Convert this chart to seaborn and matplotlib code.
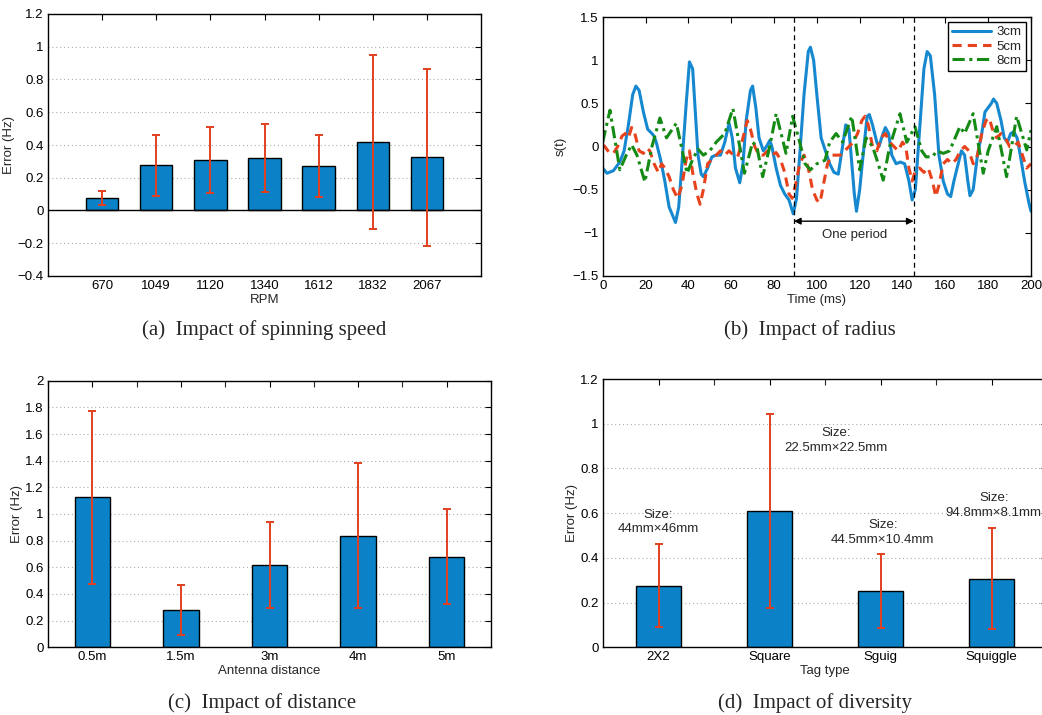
import numpy as np
import pandas as pd
import seaborn as sns
from matplotlib import pyplot as plt
from matplotlib.ticker import FuncFormatter, MultipleLocator

# (a) spinning speed
rpm = ['670', '1049', '1120', '1340', '1612', '1832', '2067']
rpm_err_mean = [0.077, 0.277, 0.308, 0.322, 0.273, 0.42, 0.324]
rpm_err_std = [0.041, 0.187, 0.2, 0.206, 0.19, 0.53, 0.538]

# (b) radius, s(t) traces
t_3cm = [0, 2, 5, 8, 10, 12, 14, 15.5, 17, 19, 21, 23, 24, 25, 27, 29, 31, 33, 34, 35.5,
         37, 39, 40.5, 42, 43, 44.5, 46, 47, 49, 51, 53, 55, 57, 59, 60.5, 62, 64, 65.5,
         67, 69, 70, 71.5, 73, 75, 76.5, 78, 79, 81, 83, 85, 87, 89, 90.5, 92, 94, 96,
         97, 98.5, 100, 102, 104, 106, 108, 110, 112, 113.5, 115, 116, 117.5, 118.5, 120,
         122, 123.5, 124.5, 126, 128, 129, 130.5, 132, 133.5, 135, 137, 139, 141, 143,
         144.5, 146, 148, 150, 151.5, 153, 155, 157, 159, 161, 162.5, 164, 166, 167.5,
         169, 170.5, 171.5, 173, 175, 177, 178.5, 180, 181.5, 182.5, 184, 186, 187.5, 189,
         190.5, 192, 193.5, 195, 197, 199, 200]
s_3cm = [-0.25, -0.31, -0.28, -0.18, -0.05, 0.25, 0.6, 0.7, 0.65, 0.4, 0.2, 0.15, 0.12,
         0.05, -0.15, -0.4, -0.7, -0.82, -0.88, -0.7, -0.2, 0.5, 0.98, 0.9, 0.5, -0.1,
         -0.32, -0.35, -0.25, -0.12, -0.1, -0.1, 0.05, 0.27, 0.1, -0.25, -0.42, -0.2, 0.3,
         0.65, 0.7, 0.45, 0.1, -0.05, 0.0, 0.07, 0.0, -0.25, -0.45, -0.55, -0.62, -0.78,
         -0.6, -0.1, 0.6, 1.1, 1.15, 1.0, 0.6, 0.1, -0.05, -0.2, -0.3, -0.32, 0.0, 0.25,
         0.2, -0.1, -0.55, -0.75, -0.5, 0.0, 0.35, 0.37, 0.25, 0.05, 0.0, 0.12, 0.22, 0.15,
         -0.1, -0.2, -0.18, -0.2, -0.4, -0.62, -0.5, 0.2, 0.9, 1.1, 1.05, 0.6, -0.1, -0.4,
         -0.55, -0.58, -0.4, -0.2, -0.05, -0.1, -0.4, -0.57, -0.5, -0.1, 0.15, 0.4, 0.45,
         0.5, 0.55, 0.5, 0.3, 0.1, 0.05, 0.15, 0.17, 0.1, -0.1, -0.4, -0.65, -0.75]
t_5cm = [0, 1, 3, 5, 7, 9, 10.5, 12, 13.5, 15, 17, 19, 20.5, 22, 24, 26, 27.5, 29, 31,
         33, 35, 37, 39, 40.5, 42, 44, 45.5, 47, 49, 51, 53, 55, 57, 59, 61, 63, 64.5,
         66, 67.5, 69, 71, 73, 75, 77, 79, 81, 83, 85, 87, 88.5, 90, 92, 94, 96, 98, 100,
         101.5, 103, 105, 107, 109, 111, 113, 115, 117, 119, 121, 122.5, 124, 126, 128,
         130, 132, 134, 136, 138, 140, 141.5, 143, 144.5, 146, 148, 150, 152, 154, 155.5,
         157, 159, 161, 163, 165, 167, 169, 171, 173, 175, 177, 179, 180.5, 182, 184, 186,
         188, 190, 192, 194, 196, 198, 200]
s_5cm = [0.02, 0.0, -0.07, -0.08, 0.0, 0.12, 0.15, 0.1, 0.22, 0.15, -0.05, -0.08, -0.02,
         -0.05, -0.2, -0.3, -0.2, -0.25, -0.35, -0.5, -0.6, -0.45, -0.15, -0.05, -0.3,
         -0.55, -0.67, -0.5, -0.2, -0.15, -0.1, -0.05, -0.1, -0.05, -0.1, -0.12, 0.0, 0.15,
         0.3, 0.2, 0.0, -0.1, -0.1, -0.05, -0.1, -0.07, -0.15, -0.3, -0.55, -0.6, -0.45,
         -0.2, -0.1, -0.25, -0.5, -0.62, -0.65, -0.45, -0.2, -0.1, -0.1, -0.1, -0.05, 0.0,
         0.05, 0.15, 0.3, 0.35, 0.25, 0.0, -0.05, 0.1, 0.15, 0.05, 0.0, -0.05, 0.05, 0.0,
         -0.25, -0.4, -0.28, -0.25, -0.3, -0.25, -0.4, -0.58, -0.45, -0.2, -0.15, -0.2,
         -0.15, -0.05, 0.0, -0.05, -0.2, -0.1, 0.15, 0.3, 0.33, 0.2, 0.1, 0.15, 0.1, 0.0,
         0.0, 0.05, -0.1, -0.25, -0.2]
t_8cm = [0, 3.4, 8, 11, 13.5, 16, 19.7, 23, 26.7, 29.8, 34.4, 39.4, 42, 44.5, 47, 50, 53,
         57, 60.8, 66.2, 70, 72, 74.7, 78, 81, 85.6, 88.7, 92, 94.5, 97, 100, 103.8, 106,
         109, 112, 116.3, 120, 123, 126, 128, 131, 134, 138.8, 142, 145.8, 149, 151, 154,
         156, 159, 162, 166.8, 169, 173, 177.7, 180, 184, 188.6, 193.3, 198, 200]
s_8cm = [0.05, 0.42, -0.27, -0.1, 0.02, -0.1, -0.41, 0.0, 0.33, 0.1, 0.27, -0.31, -0.15,
         -0.03, -0.1, -0.05, 0.05, 0.15, 0.44, -0.31, 0.05, 0.0, -0.35, 0.0, 0.38, -0.08,
         0.35, 0.05, -0.2, -0.27, -0.2, -0.16, 0.05, 0.15, 0.05, 0.35, -0.27, 0.1, 0.0,
         -0.15, -0.39, 0.0, 0.38, 0.05, 0.23, -0.05, -0.12, -0.12, -0.05, -0.08, -0.05,
         0.23, 0.15, 0.38, -0.31, -0.05, 0.23, -0.35, 0.35, -0.04, 0.19]
period_start, period_end = 89.3, 145.2

# (c) antenna distance
dist = ['0.5m', '1.5m', '3m', '4m', '5m']
dist_err_mean = [1.125, 0.28, 0.62, 0.838, 0.68]
dist_err_std = [0.65, 0.187, 0.322, 0.543, 0.355]

# (d) tag type
tags = ['2X2', 'Square', 'Sguig', 'Squiggle']
tag_err_mean = [0.276, 0.608, 0.252, 0.306]
tag_err_std = [0.187, 0.434, 0.167, 0.226]
tag_sizes = ['Size:\n44mm×46mm', 'Size:\n22.5mm×22.5mm', 'Size:\n44.5mm×10.4mm',
             'Size:\n94.8mm×8.1mm']
tag_label_pos = [(0.0, 0.56), (1.6, 0.925), (2.02, 0.515), (3.02, 0.633)]

sns.set_theme(style="white")
plt.rcParams['font.family'] = ['Liberation Sans', 'DejaVu Sans']
plt.rcParams['axes.unicode_minus'] = True

BAR = '#0b82c8'
ERR = '#e2401f'
W, H = 1042, 715
fig = plt.figure(figsize=(W / 100, H / 100), dpi=100)


def box(l, r, t, b):
    return fig.add_axes([l / W, 1 - b / H, (r - l) / W, (b - t) / H])


def fmt(v, pos):
    s = '%g' % round(v, 6)
    return s.replace('-', '\u2212')


def style(ax):
    for sp in ax.spines.values():
        sp.set_color('black')
        sp.set_linewidth(1.0)
    ax.tick_params(direction='in', top=True, right=True, length=4, width=0.8,
                   labelsize=9.5, colors='black', pad=3)
    ax.yaxis.set_major_formatter(FuncFormatter(fmt))


def bars(ax, cats, mean, std, width, ylim, ystep):
    df = pd.DataFrame({'cat': cats, 'val': mean})
    sns.barplot(data=df, x='cat', y='val', ax=ax, color=BAR, saturation=1,
                width=width, edgecolor='black', linewidth=1.0, errorbar=None)
    ax.errorbar(np.arange(len(cats)), mean, yerr=std, fmt='none', ecolor=ERR,
                elinewidth=1.4, capsize=3, capthick=1.4, zorder=5)
    ax.set_ylim(*ylim)
    ax.yaxis.set_major_locator(MultipleLocator(ystep))
    ax.grid(axis='y', linestyle=(0, (1, 2.5)), color='#aaaaaa', linewidth=0.8)
    ax.set_axisbelow(True)
    style(ax)
    ax.set_ylabel('Error (Hz)', fontsize=9.5, labelpad=2)


# (a)
ax1 = box(48, 481, 14, 276)
bars(ax1, rpm, rpm_err_mean, rpm_err_std, 0.6, (-0.4, 1.2), 0.2)
ax1.set_xlim(-1, 7)
ax1.axhline(0, color='black', lw=1.0, zorder=1)
ax1.set_xlabel('RPM', fontsize=9.5, labelpad=1)

# (b)
ax2 = box(602.7, 1031, 17, 276)
sns.lineplot(x=t_3cm, y=s_3cm, ax=ax2, color='#1688d0', lw=2.2, label='3cm')
sns.lineplot(x=t_5cm, y=s_5cm, ax=ax2, color='#e8421c', lw=2.2, label='5cm',
             linestyle=(0, (3, 2)))
sns.lineplot(x=t_8cm, y=s_8cm, ax=ax2, color='#158a15', lw=2.2, label='8cm',
             linestyle=(0, (4, 1.5, 1, 1.5)))
ax2.set_xlim(0, 200)
ax2.set_ylim(-1.5, 1.5)
ax2.xaxis.set_major_locator(MultipleLocator(20))
ax2.yaxis.set_major_locator(MultipleLocator(0.5))
style(ax2)
for x0 in (period_start, period_end):
    ax2.axvline(x0, color='black', lw=0.9, linestyle=(0, (4, 3)))
ax2.annotate('', xy=(period_start, -0.865), xytext=(period_end, -0.865),
             arrowprops=dict(arrowstyle='<|-|>', color='black', lw=1.0,
                             mutation_scale=10, shrinkA=0, shrinkB=0))
ax2.text(117.5, -1.02, 'One period', ha='center', va='center', fontsize=9.5)
ax2.set_xlabel('Time (ms)', fontsize=9.5, labelpad=1)
ax2.set_ylabel('s(t)', fontsize=9.5, labelpad=4)
leg = ax2.legend(loc='upper right', fontsize=9.5, fancybox=False, framealpha=1,
                 edgecolor='black', handlelength=3.0, borderpad=0.3,
                 labelspacing=0.15, handletextpad=0.4, borderaxespad=0.4)
leg.get_frame().set_linewidth(1.0)

# (c)
ax3 = box(48, 491, 380.7, 647.3)
bars(ax3, dist, dist_err_mean, dist_err_std, 0.4, (0, 2), 0.2)
ax3.set_xlim(-0.5, 4.5)
ax3.xaxis.set_minor_locator(MultipleLocator(0.5))
ax3.tick_params(which='minor', direction='in', top=True, length=4, width=0.8)
ax3.set_xlabel('Antenna distance', fontsize=9.5, labelpad=1)

# (d)
ax4 = box(603, 1047, 379, 647.3)
bars(ax4, tags, tag_err_mean, tag_err_std, 0.4, (0, 1.2), 0.2)
ax4.set_xlim(-0.5, 3.5)
ax4.xaxis.set_minor_locator(MultipleLocator(0.5))
ax4.tick_params(which='minor', direction='in', top=True, length=4, width=0.8)
ax4.set_xlabel('Tag type', fontsize=9.5, labelpad=1)
for txt, (xx, yy) in zip(tag_sizes, tag_label_pos):
    ax4.text(xx, yy, txt, ha='center', va='center', fontsize=9.5, linespacing=1.3)

# captions
cap = dict(ha='center', va='center', fontsize=15, family='Liberation Serif')
fig.text(264 / W, 1 - 330 / H, '(a)  Impact of spinning speed', **cap)
fig.text(810 / W, 1 - 330 / H, '(b)  Impact of radius', **cap)
fig.text(262 / W, 1 - 703 / H, '(c)  Impact of distance', **cap)
fig.text(815 / W, 1 - 703 / H, '(d)  Impact of diversity', **cap)

fig.savefig('out.png', dpi=100)
